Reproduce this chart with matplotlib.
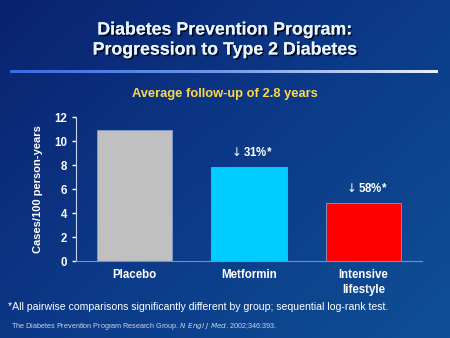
import matplotlib
matplotlib.use('Agg')
import matplotlib.pyplot as plt
import matplotlib.patheffects as pe
from matplotlib.colors import LinearSegmentedColormap
import numpy as np

plt.rcParams['font.family'] = ['Liberation Sans', 'DejaVu Sans']

groups = ['Placebo', 'Metformin', 'Intensive\nlifestyle']
cases = [10.9, 7.8, 4.8]
bar_colors = ['#c0c0c0', '#00ccff', '#ff0000']
reductions = [None, '31%*', '58%*']
yticks = [0, 2, 4, 6, 8, 10, 12]

W, H = 450, 338
fig = plt.figure(figsize=(W/100, H/100), dpi=100)

# background gradient
bg = fig.add_axes([0, 0, 1, 1])
xx, yy = np.meshgrid(np.linspace(0, 1, 300), np.linspace(0, 1, 230))
grad = 0.55*xx + 0.45*yy
bgmap = LinearSegmentedColormap.from_list('bg', ['#0a2270', '#0c3a88', '#0f4f95'])
bg.imshow(grad, cmap=bgmap, aspect='auto', extent=[0, 1, 0, 1], origin='upper')
bg.set_xlim(0, 1)
bg.set_ylim(0, 1)
bg.axis('off')

# title rule
rule = np.linspace(0, 1, 200).reshape(1, -1)
rulemap = LinearSegmentedColormap.from_list('rule', ['#3a6be0', '#6f9ae8', '#e8f0ff'])
bg.imshow(rule, cmap=rulemap, aspect='auto',
          extent=[10/W, 438/W, 1-73/H, 1-70/H])

shadow = [pe.withSimplePatchShadow(offset=(1.2, -1.2), shadow_rgbFace='black', alpha=0.8), pe.Normal()]
fig.text(0.5, 1-30/H, 'Diabetes Prevention Program:', ha='center', va='center',
         color='#e8f4ff', fontsize=12.8, fontweight='bold', path_effects=shadow)
fig.text(0.5, 1-50/H, 'Progression to Type 2 Diabetes', ha='center', va='center',
         color='#e8f4ff', fontsize=12.8, fontweight='bold', path_effects=shadow)
fig.text(0.5, 1-94/H, 'Average follow-up of 2.8 years', ha='center', va='center',
         color='#ffd84a', fontsize=9.3, fontweight='bold')

ax = fig.add_axes([76/W, 1-261/H, (422-76)/W, (261-117)/H])
ax.patch.set_alpha(0)
x = np.arange(len(groups))
ax.bar(x, cases, width=0.66, color=bar_colors, edgecolor='#7f9fc8', linewidth=0.6)
for xi, v, r in zip(x, cases, reductions):
    if r:
        ax.text(xi + 0.02, v + 1.2, '$\\downarrow$' + r, ha='center', va='center', color='white',
                fontsize=8.3, fontweight='bold')
ax.set_xlim(-0.51, 2.51)
ax.set_ylim(0, 12)
ax.set_yticks(yticks)
ax.set_xticks(x)
ax.set_xticklabels(groups, color='white', fontsize=8.3, fontweight='bold', linespacing=1.25)
ax.tick_params(axis='y', colors='white', labelsize=8.3, length=3, width=1, direction='out')
ax.tick_params(axis='x', length=0, pad=6)
for lab in ax.get_yticklabels():
    lab.set_fontweight('bold')
ax.spines['top'].set_visible(False)
ax.spines['right'].set_visible(False)
ax.spines['left'].set_color('#c8d4ec')
ax.spines['bottom'].set_color('#6f8fd0')
ax.set_ylabel('Cases/100 person-years', color='white', fontsize=8, fontweight='bold', labelpad=8)

fig.text(8/W, 1-307/H, '*All pairwise comparisons significantly different by group; sequential log-rank test.',
         ha='left', va='center', color='white', fontsize=7.6)
fig.text(11/W, 1-326/H, 'The Diabetes Prevention Program Research Group. $\\it{N\\ Engl\\ J\\ Med}$. 2002;346:393.',
         ha='left', va='center', color='#c8d4ec', fontsize=5.2)

fig.savefig('out.png', dpi=100)
